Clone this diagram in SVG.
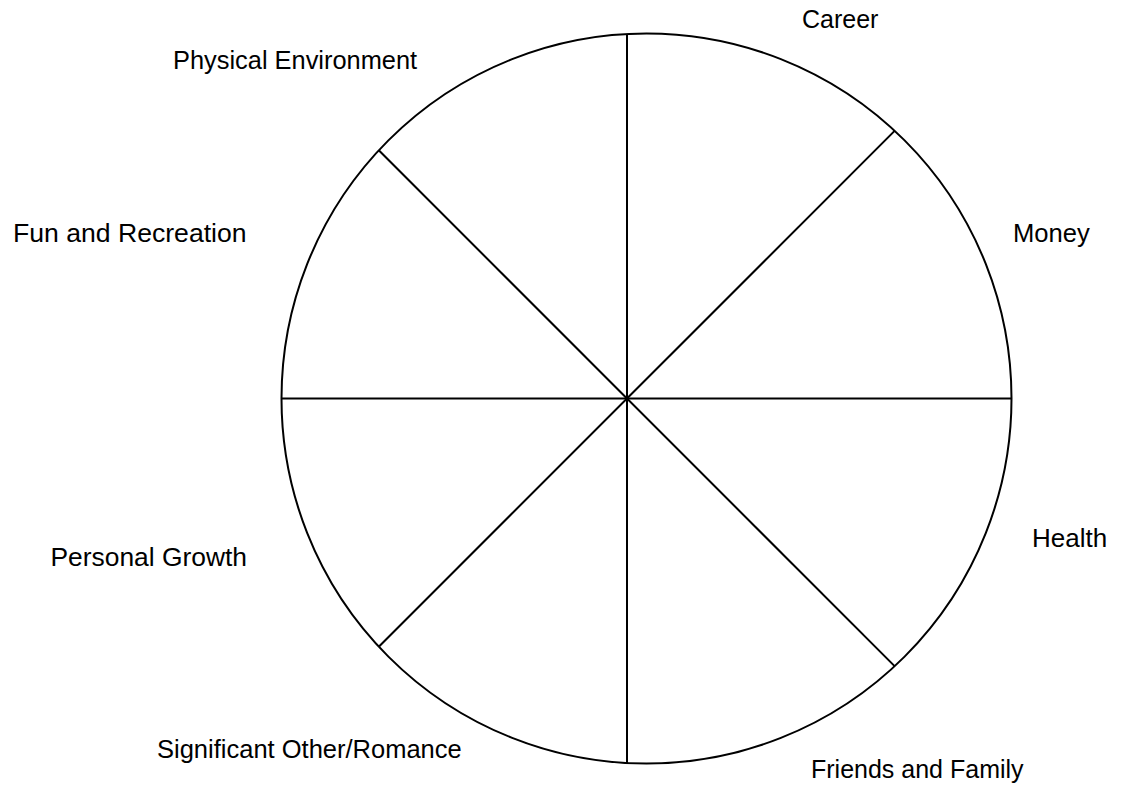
<svg xmlns="http://www.w3.org/2000/svg" width="1126" height="786" viewBox="0 0 1126 786">
<style>
.lbl{font-family:"Liberation Sans",Arial,sans-serif;font-size:25px;fill:#000}
.ln{stroke:#000;stroke-width:2;fill:none}
</style>
<rect width="1126" height="786" fill="#fff"/>
<g id="wheel">
<circle class="ln" cx="646.5" cy="398.5" r="365"/>
</g>
<g id="connectors">
<line class="ln" x1="627" y1="398.5" x2="627" y2="34"/>
<line class="ln" x1="627" y1="398.5" x2="627" y2="763"/>
<line class="ln" x1="627" y1="398.5" x2="281.5" y2="398.5"/>
<line class="ln" x1="627" y1="398.5" x2="1011.5" y2="398.5"/>
<line class="ln" x1="627" y1="398.5" x2="894.6" y2="130.9"/>
<line class="ln" x1="627" y1="398.5" x2="894.6" y2="666.1"/>
<line class="ln" x1="627" y1="398.5" x2="378.8" y2="150.3"/>
<line class="ln" x1="627" y1="398.5" x2="378.8" y2="646.7"/>
</g>
<g id="career"><text class="lbl" x="802" y="28">Career</text></g>
<g id="money"><text class="lbl" x="1013" y="242" style="font-size:25.6px">Money</text></g>
<g id="health"><text class="lbl" x="1032" y="547" style="font-size:26px">Health</text></g>
<g id="friends"><text class="lbl" x="811" y="778">Friends and Family</text></g>
<g id="significant"><text class="lbl" x="157" y="758" style="font-size:25.5px">Significant Other/Romance</text></g>
<g id="growth"><text class="lbl" x="247" y="566" text-anchor="end" style="font-size:26.4px">Personal Growth</text></g>
<g id="fun"><text class="lbl" x="13" y="242" style="font-size:26.6px">Fun and Recreation</text></g>
<g id="physical"><text class="lbl" x="173" y="69" style="font-size:25.4px">Physical Environment</text></g>
</svg>
